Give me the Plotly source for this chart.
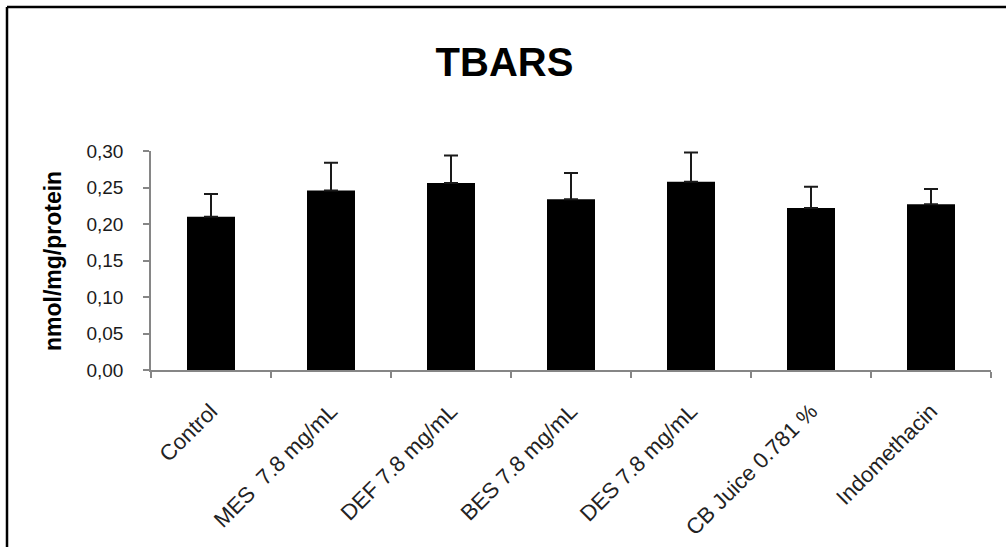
import plotly.graph_objects as go

categories = ["Control", "MES  7.8 mg/mL", "DEF 7.8 mg/mL", "BES 7.8 mg/mL",
              "DES 7.8 mg/mL", "CB Juice 0.781 %", "Indomethacin"]
values = [0.210, 0.246, 0.256, 0.234, 0.258, 0.222, 0.227]
errors = [0.031, 0.038, 0.038, 0.036, 0.040, 0.029, 0.021]
y_ticks = [0.00, 0.05, 0.10, 0.15, 0.20, 0.25, 0.30]

W, H = 1006, 547
L, R, T, B = 151, 15, 151, 177
PW, PH = W - L - R, H - T - B

def px_x(p):
    return (p - L) / PW

def px_y(p):
    return (H - B - p) / PH

FONT = "Arial, Liberation Sans, sans-serif"

fig = go.Figure()
fig.add_trace(go.Bar(
    x=categories, y=values,
    marker=dict(color="black", line=dict(width=0)),
    error_y=dict(type="data", array=errors, arrayminus=[0] * len(errors),
                 symmetric=False, color="#1a1a1a", thickness=2, width=7),
))

fig.update_layout(
    width=W, height=H,
    margin=dict(l=L, r=R, t=T, b=B, autoexpand=False),
    paper_bgcolor="white", plot_bgcolor="white",
    separators=",.",
    bargap=0.6,
    showlegend=False,
    title=dict(text="<b>TBARS</b>", x=504.5 / W, xanchor="center", xref="container",
               y=1 - 62 / H, yanchor="middle",
               font=dict(family=FONT, size=40, color="black")),
    xaxis=dict(
        type="category", tickangle=-45, tickson="boundaries",
        ticks="outside", ticklen=6, tickcolor="#868686", tickwidth=1.5,
        showline=True, linecolor="#868686", linewidth=1.5,
        showgrid=False, zeroline=False,
        ticklabelstandoff=18,
        tickfont=dict(family=FONT, size=22, color="#222222"),
        automargin=False,
    ),
    yaxis=dict(
        range=[0, 0.30], tickvals=y_ticks, tickformat=".2f",
        ticks="outside", ticklen=6, tickcolor="#868686", tickwidth=1.5,
        showline=True, linecolor="#868686", linewidth=1.5,
        showgrid=False, zeroline=False,
        ticklabelstandoff=16,
        tickfont=dict(family=FONT, size=19, color="#1a1a1a"),
        automargin=False,
    ),
    annotations=[dict(
        text="<b>nmol/mg/protein</b>", textangle=-90,
        x=px_x(53), y=px_y(261), xref="paper", yref="paper",
        xanchor="center", yanchor="middle", showarrow=False,
        font=dict(family=FONT, size=23, color="black"),
    )],
    shapes=[
        dict(type="line", xref="paper", yref="paper",
             x0=px_x(7), x1=px_x(W + 5), y0=px_y(7), y1=px_y(7),
             line=dict(color="black", width=2.5)),
        dict(type="line", xref="paper", yref="paper",
             x0=px_x(7), x1=px_x(7), y0=px_y(7), y1=px_y(H + 5),
             line=dict(color="black", width=2.5)),
    ],
)

fig.write_html("out.html", config={"displayModeBar": False},
               post_script="document.body.style.margin='0';")
